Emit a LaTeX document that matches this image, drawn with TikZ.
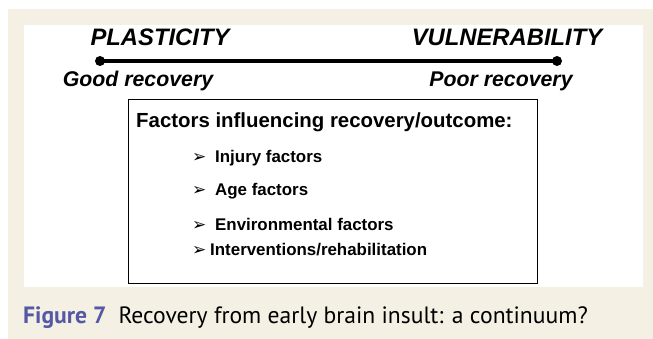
\documentclass[tikz,border=0pt]{standalone}
\usepackage{fontspec}
\setmainfont{Liberation Sans}
\newfontfamily\capfont{PT Sans}
\newfontfamily\dingfont{DejaVu Sans}
\definecolor{beige}{HTML}{F4F0E3}
\definecolor{capblue}{HTML}{5558A5}
\begin{document}
\begin{tikzpicture}[x=1pt,y=-1pt,
  headlbl/.style={font=\fontsize{23.8}{26}\selectfont\bfseries\itshape, inner sep=0pt, anchor=base},
  reclbl/.style={font=\fontsize{21.3}{24}\selectfont\bfseries\itshape, inner sep=0pt, anchor=base},
  itemlbl/.style={font=\fontsize{16.9}{19}\selectfont\bfseries, inner sep=0pt, anchor=base west},
  arrowlbl/.style={font=\fontsize{17}{19}\selectfont\dingfont\bfseries, inner sep=0pt, anchor=base west},
  enddot/.style={circle, fill=black, inner sep=0pt, minimum size=10pt}]
\useasboundingbox (0,0) rectangle (653,339);
\fill[beige] (8,9) rectangle (653,339);
\fill[white] (24,25) rectangle (643,287);
% scale line
\node[enddot] (L) at (100,61) {};
\node[enddot] (R) at (557,61) {};
\draw[line width=4.5pt] (L.center) -- (R.center);
\node[headlbl] (plas) at (160,46) {PLASTICITY};
\node[headlbl] (vuln) at (507,46) {VULNERABILITY};
\node[reclbl] (good) at (138,87) {Good recovery};
\node[reclbl] (poor) at (501,87) {Poor recovery};
% factors box
\draw[line width=0.9pt] (128,99) rectangle (537,283);
\node[font=\fontsize{20.4}{23}\selectfont\bfseries, inner sep=0pt, anchor=base west] (title) at (136,128) {Factors influencing recovery/outcome:};
\node[arrowlbl] (a1) at (192,163) {➢};
\node[itemlbl] (i1) at (215,163) {Injury factors};
\node[arrowlbl] (a2) at (192,196) {➢};
\node[itemlbl] (i2) at (215,196) {Age factors};
\node[arrowlbl] (a3) at (192,230) {➢};
\node[itemlbl] (i3) at (215,230) {Environmental factors};
\node[arrowlbl] (a4) at (192,255) {➢};
\node[itemlbl] (i4) at (210,255) {Interventions/rehabilitation};
% caption
\node[font=\fontsize{23.6}{26}\selectfont\capfont, inner sep=0pt, anchor=base west] (cap) at (23,323)
  {{\bfseries\color{capblue}Figure 7}\hspace{12pt}Recovery from early brain insult: a continuum?};
\end{tikzpicture}
\end{document}
